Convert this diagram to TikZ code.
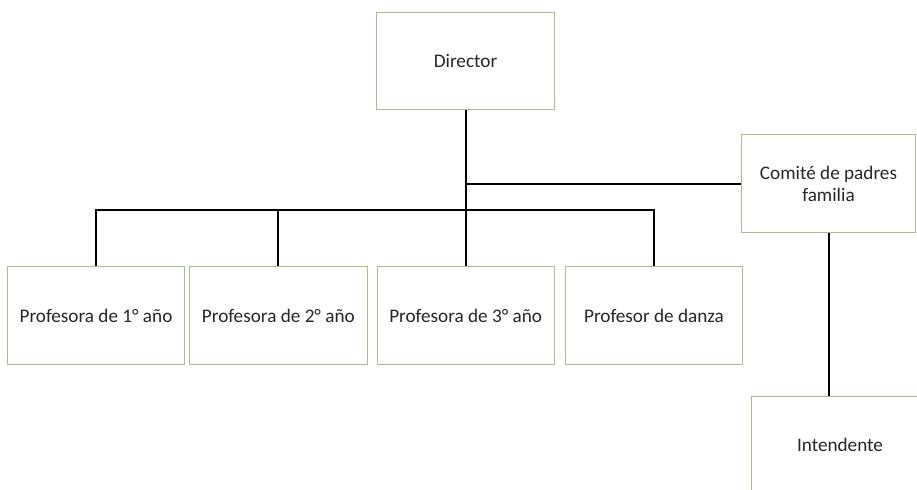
\documentclass[tikz,border=0pt]{standalone}
\usepackage{fontspec}
\setmainfont{Carlito}
\usetikzlibrary{positioning}
\definecolor{boxgreen}{RGB}{168,190,142}
\tikzset{org/.style={draw=boxgreen,line width=0.75pt,minimum width=133pt,minimum height=73pt,inner sep=0pt,font=\fontsize{14.4}{16.5}\selectfont,text=black!85,align=center},
         ln/.style={line width=1.5pt}}

\begin{document}
\begin{tikzpicture}[x=0.75pt,y=-0.75pt]
\clip (0,0) rectangle (917,489);
\node[org] (dir) at (465.5,61) {Director};
\node[org,minimum width=130pt] (com) at (828.5,183.5) {Comité de padres\\familia};
\node[org] (p1) at (96,315.5) {Profesora de 1° año};
\node[org,right=3pt of p1] (p2) {Profesora de 2° año};
\node[org,right=6.75pt of p2] (p3) {Profesora de 3° año};
\node[org,right=7.5pt of p3] (p4) {Profesor de danza};
\node[org] (int) at (840,445) {Intendente};
% lines
\draw[ln] (dir.south) -- (dir.south |- p3.north);
\draw[ln] (com.west) -- (com.west -| dir.south);
\draw[ln] (p1.north) -- ++(0,-56) -| (p4.north);
\draw[ln] (p2.north) -- ++(0,-56);
\draw[ln] (com.south) -- (com.south |- int.north);
\end{tikzpicture}
\end{document}
